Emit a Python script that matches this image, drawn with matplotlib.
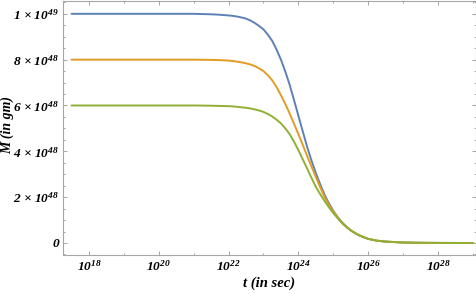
import numpy as np
import matplotlib
matplotlib.use("Agg")
import matplotlib.pyplot as plt
from matplotlib.ticker import FixedLocator, FuncFormatter

plt.rcParams['font.family'] = ['Liberation Serif', 'DejaVu Serif']
plt.rcParams['font.style'] = 'italic'
plt.rcParams['font.weight'] = 'bold'
plt.rcParams['axes.labelweight'] = 'bold'
plt.rcParams['mathtext.fontset'] = 'custom'
plt.rcParams['mathtext.rm'] = 'Liberation Serif:italic:bold'
plt.rcParams['mathtext.it'] = 'Liberation Serif:italic:bold'
plt.rcParams['mathtext.bf'] = 'Liberation Serif:italic:bold'

# exponents of t (seconds)
log_t = [17.5, 18, 19, 20, 21, 21.5, 21.75, 22, 22.125, 22.25, 22.375, 22.5, 22.625,
         22.75, 22.875, 23, 23.125, 23.25, 23.375, 23.5, 23.625, 23.75, 23.875,
         24, 24.125, 24.25, 24.375, 24.5, 24.625, 24.75, 24.875, 25, 25.125,
         25.25, 25.375, 25.5, 25.625, 25.75, 25.875, 26, 26.25, 26.5, 27, 27.5,
         28, 28.5, 29]

# masses in units of 1e48 gm
m_blue = [10.0, 10.0, 10.0, 10.0, 10.0, 9.98, 9.96, 9.93, 9.91, 9.88, 9.84, 9.79, 9.71,
          9.6, 9.47, 9.32, 9.09, 8.82, 8.44, 8.0, 7.48, 6.9, 6.24,
          5.55, 4.87, 4.2, 3.6, 3.05, 2.56, 2.1, 1.73, 1.4, 1.13,
          0.9, 0.71, 0.55, 0.43, 0.33, 0.25, 0.18, 0.1, 0.06, 0.02, 0.008,
          0.003, 0.001, 0.0003]
m_orange = [8.0, 8.0, 8.0, 8.0, 8.0, 7.99, 7.98, 7.96, 7.94, 7.91, 7.88, 7.84, 7.79,
            7.72, 7.62, 7.5, 7.32, 7.1, 6.8, 6.45, 6.07, 5.65, 5.2,
            4.75, 4.28, 3.8, 3.34, 2.88, 2.43, 2.0, 1.66, 1.37, 1.11,
            0.89, 0.7, 0.55, 0.43, 0.33, 0.25, 0.18, 0.1, 0.06, 0.02, 0.008,
            0.003, 0.001, 0.0003]
m_green = [6.0, 6.0, 6.0, 6.0, 6.0, 5.99, 5.98, 5.97, 5.96, 5.94, 5.92, 5.9, 5.87,
           5.83, 5.78, 5.72, 5.63, 5.52, 5.38, 5.22, 5.0, 4.75, 4.42,
           4.05, 3.65, 3.25, 2.84, 2.45, 2.13, 1.83, 1.56, 1.3, 1.08,
           0.87, 0.7, 0.55, 0.43, 0.33, 0.25, 0.18, 0.1, 0.06, 0.02, 0.008,
           0.003, 0.001, 0.0003]

colors = ['#5E81B5', '#E19C24', '#8FB032']
x_major_exp = [18, 20, 22, 24, 26, 28]
y_major = [0, 2e48, 4e48, 6e48, 8e48, 1e49]
y_labels = ['0', '2 × 10$^{48}$', '4 × 10$^{48}$', '6 × 10$^{48}$',
            '8 × 10$^{48}$', '1 × 10$^{49}$']

fig = plt.figure(figsize=(4.77, 2.94), dpi=100)
ax = fig.add_axes([0.132, 0.133, 0.866, 0.864])

t = 10.0 ** np.array(log_t)
for m, c in zip([m_blue, m_orange, m_green], colors):
    ax.plot(t, np.array(m) * 1e48, color=c, lw=1.4, solid_capstyle='round')

ax.set_xscale('log')
ax.set_xlim(10 ** 17.255, 10 ** 29.09)
ax.set_ylim(-0.52e48, 1.0565e49)

ax.xaxis.set_major_locator(FixedLocator([10.0 ** e for e in x_major_exp]))
ax.xaxis.set_minor_locator(FixedLocator([10.0 ** e for e in range(17, 30, 2)]))
ax.xaxis.set_major_formatter(FuncFormatter(lambda v, p: '10$^{%d}$' % round(np.log10(v))))
ax.xaxis.set_minor_formatter(FuncFormatter(lambda v, p: ''))

ax.yaxis.set_major_locator(FixedLocator(y_major))
ax.yaxis.set_minor_locator(FixedLocator(list(np.arange(-0.5e48, 1.06e49, 0.5e48))))
ax.set_yticklabels(y_labels)

frame_c = '#a6a6a6'
for s in ax.spines.values():
    s.set_color(frame_c)
    s.set_linewidth(0.8)
ax.tick_params(which='both', direction='in', top=True, right=True, color=frame_c,
               width=0.7, labelsize=9.6)
ax.tick_params(which='major', length=3.0, pad=3)
ax.tick_params(which='minor', length=1.6)

ax.set_xlabel('t (in sec)', fontsize=10.5, labelpad=2, weight='bold')
fig.text(7.5 / 477, 1 - 125 / 294, 'M (in gm)', rotation=90, ha='center', va='center',
         fontsize=10, weight='bold', style='italic')

fig.savefig('out.png', dpi=100)
